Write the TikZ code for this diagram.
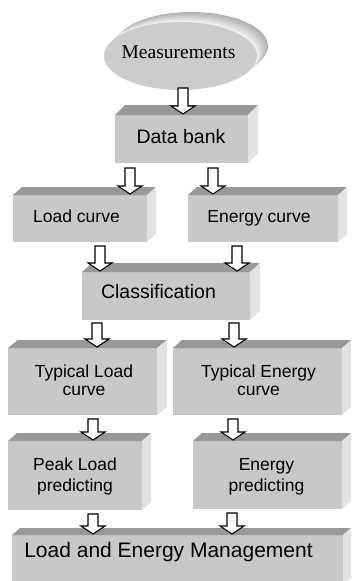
\documentclass[tikz,border=0pt]{standalone}
\usepackage{fontspec}
\setmainfont{Liberation Sans}
\newfontfamily\measfont{Liberation Serif}
\usetikzlibrary{shapes.geometric,calc}
\definecolor{frontc}{RGB}{200,200,200}
\definecolor{topc}{RGB}{152,152,152}
\definecolor{sidec}{RGB}{226,226,226}
\definecolor{ellc}{RGB}{204,204,204}
\tikzset{
  blk/.style={rectangle, fill=frontc, draw=none, inner sep=0pt, outer sep=0pt, anchor=north west},
  txt/.style={anchor=base, inner sep=0pt, text=black},
  fsa/.style={font=\fontsize{17.5}{18}\selectfont},
  fsb/.style={font=\fontsize{19.5}{20}\selectfont},
  barr/.style={draw=black, fill=white, line width=1.1pt, line join=miter},
}
\newcommand\threed[3]{%
  \fill[topc] (#1.north west) -- ++(#2,-#3) -- ([shift={(#2,-#3)}]#1.north east) -- (#1.north east) -- cycle;
  \fill[sidec] (#1.north east) -- ++(#2,-#3) -- ([shift={(#2,-#3)}]#1.south east) -- (#1.south east) -- cycle;
}
\newcommand\barrow[4]{% src, tgt, x, start gap
  \draw[barr] let \p1=(#1.south), \p2=(#2.north) in
    (#3pt-5pt,\y1-#4pt) -- (#3pt+5pt,\y1-#4pt) -- (#3pt+5pt,\y2+9pt) -- (#3pt+12pt,\y2+9pt)
    -- (#3pt,\y2+1pt) -- (#3pt-12pt,\y2+9pt) -- (#3pt-5pt,\y2+9pt) -- cycle;
}
\begin{document}
\begin{tikzpicture}[x=1pt,y=-1pt]
\useasboundingbox (0,0) rectangle (351,581);
% 3D disc
\foreach \i in {10,9,...,1}{
  \pgfmathsetmacro\g{6+25*(\i-1)/9}
  \fill[black!\g!white] (180.5+1.1*\i,56-\i) ellipse [x radius=76.5, y radius=34];
}
\node[ellipse, fill=ellc, minimum width=153, minimum height=68, inner sep=0pt, outer sep=0pt] (meas) at (180.5,56) {};
\node[txt, font=\measfont\fontsize{19.5}{20}\selectfont] (tm) at (178.5,58) {Measurements};

% boxes
\node[blk, minimum width=133, minimum height=48] (db) at (115,115) {};
\node[blk, minimum width=134, minimum height=47] (lc) at (13,195) {};
\node[blk, minimum width=150, minimum height=47] (ec) at (188,195) {};
\node[blk, minimum width=168, minimum height=48] (cl) at (82,272) {};
\node[blk, minimum width=149, minimum height=67] (tl) at (8,348) {};
\node[blk, minimum width=169, minimum height=67] (te) at (173,348) {};
\node[blk, minimum width=134, minimum height=69] (pk) at (8,441) {};
\node[blk, minimum width=149, minimum height=68] (ep) at (193,441) {};
\node[blk, minimum width=331, minimum height=50] (fn) at (12,535) {};
\threed{db}{10}{10}
\threed{lc}{9}{8}
\threed{ec}{9}{8}
\threed{cl}{10}{9}
\threed{tl}{10}{8}
\threed{te}{9}{8}
\threed{pk}{9}{8}
\threed{ep}{9}{8}
\threed{fn}{8}{7}

% texts
\node[txt, fsb] (t1) at (181,143) {Data bank};
\node[txt, fsa] (t2) at (76.5,222) {Load curve};
\node[txt, fsa] (t3) at (259,222) {Energy curve};
\node[txt, fsb] (t4) at (158.5,298) {Classification};
\node[txt, fsa] (t5a) at (84,377) {Typical Load};
\node[txt, fsa] (t5b) at (84,395) {curve};
\node[txt, fsa] (t6a) at (258.5,377) {Typical Energy};
\node[txt, fsa] (t6b) at (258.5,395) {curve};
\node[txt, fsa] (t7a) at (75,470) {Peak Load};
\node[txt, fsa] (t7b) at (75,491) {predicting};
\node[txt, fsa] (t8a) at (266.5,470) {Energy};
\node[txt, fsa] (t8b) at (266.5,491) {predicting};
\node[txt, font=\fontsize{21}{22}\selectfont] (t9) at (168.5,557) {Load and Energy Management};

% arrows
\barrow{meas}{db}{183}{-2}
\barrow{db}{lc}{130}{5}
\barrow{db}{ec}{213}{5}
\barrow{lc}{cl}{100}{4}
\barrow{ec}{cl}{237}{4}
\barrow{cl}{tl}{97}{3}
\barrow{cl}{te}{234}{3}
\barrow{tl}{pk}{93}{4}
\barrow{te}{ep}{233}{4}
\barrow{pk}{fn}{93}{4}
\barrow{ep}{fn}{232}{4}
\end{tikzpicture}
\end{document}
